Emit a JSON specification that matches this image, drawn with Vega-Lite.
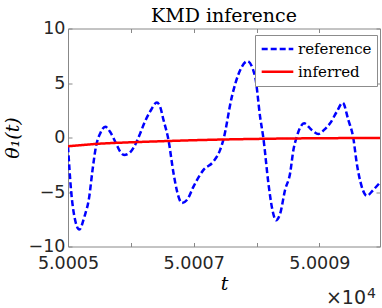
{
  "$schema": "https://vega.github.io/schema/vega-lite/v6.json",
  "width": 312,
  "height": 218,
  "autosize": {"type": "none"},
  "padding": {"left": 68, "top": 28.5, "right": 2, "bottom": 61.5},
  "background": "white",
  "title": {"text": "KMD inference", "font": "DejaVu Serif", "fontSize": 19, "fontWeight": "normal", "color": "black", "frame": "group", "anchor": "middle", "offset": 4, "dy": 10},
  "config": {
    "view": {"stroke": null},
    "axis": {"grid": false, "domainColor": "#888888", "tickColor": "#888888", "labelColor": "#262626", "labelFont": "DejaVu Sans", "labelFontSize": 17.5, "titleColor": "black", "titleFont": "DejaVu Serif", "titleFontStyle": "italic", "titleFontWeight": "normal", "titleFontSize": 19}
  },
  "data": {"values": [
    {"t": 50005.000, "v": -0.8, "series": "reference"},
    {"t": 50005.048, "v": -4.8, "series": "reference"},
    {"t": 50005.100, "v": -7.2, "series": "reference"},
    {"t": 50005.180, "v": -8.45, "series": "reference"},
    {"t": 50005.259, "v": -7.3, "series": "reference"},
    {"t": 50005.339, "v": -5.4, "series": "reference"},
    {"t": 50005.390, "v": -3.0, "series": "reference"},
    {"t": 50005.445, "v": -0.84, "series": "reference"},
    {"t": 50005.514, "v": 0.4, "series": "reference"},
    {"t": 50005.593, "v": 0.99, "series": "reference"},
    {"t": 50005.672, "v": 0.5, "series": "reference"},
    {"t": 50005.763, "v": -0.53, "series": "reference"},
    {"t": 50005.831, "v": -1.3, "series": "reference"},
    {"t": 50005.893, "v": -1.6, "series": "reference"},
    {"t": 50005.990, "v": -1.35, "series": "reference"},
    {"t": 50006.081, "v": -0.53, "series": "reference"},
    {"t": 50006.149, "v": 0.38, "series": "reference"},
    {"t": 50006.213, "v": 1.3, "series": "reference"},
    {"t": 50006.308, "v": 2.4, "series": "reference"},
    {"t": 50006.415, "v": 3.2, "series": "reference"},
    {"t": 50006.467, "v": 2.8, "series": "reference"},
    {"t": 50006.520, "v": 1.6, "series": "reference"},
    {"t": 50006.599, "v": -0.23, "series": "reference"},
    {"t": 50006.679, "v": -3.27, "series": "reference"},
    {"t": 50006.738, "v": -5.0, "series": "reference"},
    {"t": 50006.812, "v": -6.0, "series": "reference"},
    {"t": 50006.897, "v": -5.7, "series": "reference"},
    {"t": 50006.997, "v": -4.5, "series": "reference"},
    {"t": 50007.156, "v": -2.97, "series": "reference"},
    {"t": 50007.315, "v": -2.2, "series": "reference"},
    {"t": 50007.421, "v": -1.14, "series": "reference"},
    {"t": 50007.474, "v": -0.17, "series": "reference"},
    {"t": 50007.607, "v": 3.73, "series": "reference"},
    {"t": 50007.739, "v": 6.17, "series": "reference"},
    {"t": 50007.855, "v": 7.0, "series": "reference"},
    {"t": 50007.978, "v": 5.56, "series": "reference"},
    {"t": 50008.057, "v": 1.9, "series": "reference"},
    {"t": 50008.110, "v": -0.1, "series": "reference"},
    {"t": 50008.189, "v": -4.19, "series": "reference"},
    {"t": 50008.248, "v": -6.5, "series": "reference"},
    {"t": 50008.312, "v": -7.6, "series": "reference"},
    {"t": 50008.375, "v": -7.0, "series": "reference"},
    {"t": 50008.455, "v": -4.8, "series": "reference"},
    {"t": 50008.534, "v": -3.3, "series": "reference"},
    {"t": 50008.587, "v": -1.14, "series": "reference"},
    {"t": 50008.641, "v": 0.08, "series": "reference"},
    {"t": 50008.693, "v": 0.9, "series": "reference"},
    {"t": 50008.757, "v": 1.3, "series": "reference"},
    {"t": 50008.879, "v": 0.69, "series": "reference"},
    {"t": 50008.984, "v": 0.32, "series": "reference"},
    {"t": 50009.075, "v": 0.7, "series": "reference"},
    {"t": 50009.170, "v": 1.3, "series": "reference"},
    {"t": 50009.277, "v": 2.36, "series": "reference"},
    {"t": 50009.372, "v": 3.18, "series": "reference"},
    {"t": 50009.461, "v": 1.6, "series": "reference"},
    {"t": 50009.541, "v": -0.08, "series": "reference"},
    {"t": 50009.595, "v": -2.36, "series": "reference"},
    {"t": 50009.674, "v": -4.5, "series": "reference"},
    {"t": 50009.754, "v": -5.35, "series": "reference"},
    {"t": 50009.859, "v": -4.8, "series": "reference"},
    {"t": 50009.965, "v": -4.13, "series": "reference"},
    {"t": 50005.00, "v": -0.8, "series": "inferred"},
    {"t": 50005.25, "v": -0.68, "series": "inferred"},
    {"t": 50005.50, "v": -0.57, "series": "inferred"},
    {"t": 50006.00, "v": -0.44, "series": "inferred"},
    {"t": 50006.50, "v": -0.34, "series": "inferred"},
    {"t": 50007.00, "v": -0.25, "series": "inferred"},
    {"t": 50007.50, "v": -0.18, "series": "inferred"},
    {"t": 50008.00, "v": -0.13, "series": "inferred"},
    {"t": 50008.50, "v": -0.09, "series": "inferred"},
    {"t": 50009.00, "v": -0.07, "series": "inferred"},
    {"t": 50009.50, "v": -0.05, "series": "inferred"},
    {"t": 50009.965, "v": -0.04, "series": "inferred"}
  ]},
  "layer": [
    {
      "mark": {"type": "line", "strokeWidth": 2.5, "interpolate": "monotone", "clip": true},
      "encoding": {
        "x": {"field": "t", "type": "quantitative", "scale": {"domain": [50005, 50009.965], "nice": false, "zero": false},
              "axis": {"orient": "bottom", "title": "t", "values": [50005, 50006, 50007, 50008, 50009], "tickSize": -4, "labelPadding": 12, "labelFlush": false, "labelOverlap": false, "labelExpr": "datum.value % 2 == 1 ? format(datum.value / 10000, '.4f') : ''", "titlePadding": 2}},
        "y": {"field": "v", "type": "quantitative", "scale": {"domain": [-10, 10], "nice": false},
              "axis": {"orient": "left", "title": "θ₁(t)", "values": [-10, -5, 0, 5, 10], "tickSize": -4, "labelPadding": 7, "labelFlush": false, "labelOverlap": false, "titlePadding": 6}},
        "color": {"field": "series", "type": "nominal", "scale": {"domain": ["reference", "inferred"], "range": ["#0000ff", "#ff0000"]},
                  "legend": {"title": null, "orient": "none", "legendX": 187, "legendY": 6.5, "fillColor": "white", "strokeColor": "#8c8c8c", "padding": 5, "symbolType": "stroke", "symbolSize": 1000, "symbolStrokeWidth": 2.5, "labelFont": "DejaVu Serif", "labelFontSize": 15, "labelColor": "black", "labelOffset": 3, "clipHeight": 18, "rowPadding": 4.7}},
        "strokeDash": {"field": "series", "type": "nominal", "scale": {"domain": ["reference", "inferred"], "range": [[6, 3], [1, 0]]},
                  "legend": {"title": null, "orient": "none", "legendX": 187, "legendY": 6.5, "fillColor": "white", "strokeColor": "#8c8c8c", "padding": 5, "symbolType": "stroke", "symbolSize": 1000, "symbolStrokeWidth": 2.5, "labelFont": "DejaVu Serif", "labelFontSize": 15, "labelColor": "black", "labelOffset": 3, "clipHeight": 18, "rowPadding": 4.7}}
      }
    },
    {
      "mark": {"type": "point", "opacity": 0},
      "encoding": {
        "x": {"field": "t", "type": "quantitative", "axis": {"orient": "top", "title": null, "labels": false, "values": [50005, 50006, 50007, 50008, 50009], "tickSize": -4}},
        "y": {"field": "v", "type": "quantitative", "axis": {"orient": "right", "title": null, "labels": false, "values": [-10, -5, 0, 5, 10], "tickSize": -4}}
      }
    },
    {
      "data": {"values": [{"label": "×10"}]},
      "mark": {"type": "text", "align": "right", "baseline": "alphabetic", "font": "DejaVu Sans", "fontSize": 19, "color": "#262626"},
      "encoding": {
        "x": {"datum": 50009.742, "type": "quantitative", "axis": null},
        "y": {"datum": -15.3, "type": "quantitative", "axis": null},
        "text": {"field": "label"}
      }
    },
    {
      "data": {"values": [{"label": "4"}]},
      "mark": {"type": "text", "align": "left", "baseline": "alphabetic", "font": "DejaVu Sans", "fontSize": 14, "color": "#262626"},
      "encoding": {
        "x": {"datum": 50009.76, "type": "quantitative", "axis": null},
        "y": {"datum": -14.75, "type": "quantitative", "axis": null},
        "text": {"field": "label"}
      }
    }
  ],
  "resolve": {"axis": {"x": "independent", "y": "independent"}}
}
